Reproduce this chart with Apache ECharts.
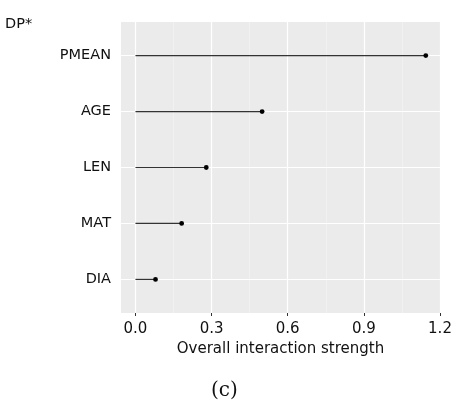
<!DOCTYPE html>
<html>
<head>
<meta charset="utf-8">
<script src="https://cdn.jsdelivr.net/npm/echarts@6/dist/echarts.min.js"></script>
<style>
  html, body { margin: 0; padding: 0; background: #fff; }
  #chart { width: 457px; height: 410px; }
</style>
</head>
<body>
<div id="chart"></div>
<script>
// Overall interaction strength per feature (lollipop chart)
const features = ['PMEAN', 'AGE', 'LEN', 'MAT', 'DIA'];
const strength = [1.144, 0.499, 0.279, 0.182, 0.079];
const xTicks = [0.0, 0.3, 0.6, 0.9, 1.2];
const xMinor = [0.15, 0.45, 0.75, 1.05];

const rowPos = features.map((_, i) => i + 1);
const FONT = 'DejaVu Sans';

const chart = echarts.init(document.getElementById('chart'), null, { renderer: 'canvas' });

const points = features.map((f, i) => [strength[i], rowPos[i]]);

chart.setOption({
  animation: false,
  backgroundColor: '#ffffff',
  grid: {
    left: 121, right: 17, top: 22, bottom: 97,
    show: true, backgroundColor: '#ebebeb', borderWidth: 0
  },
  xAxis: {
    type: 'value',
    min: -0.057, max: 1.2,
    name: 'Overall interaction strength',
    nameLocation: 'middle',
    nameGap: 28,
    nameTextStyle: { fontFamily: FONT, fontSize: 15, color: '#111' },
    axisLine: { show: false },
    splitLine: { show: false },
    axisTick: { show: true, customValues: xTicks, length: 3, lineStyle: { color: '#333', width: 1 } },
    axisLabel: {
      customValues: xTicks, margin: 9,
      fontFamily: FONT, fontSize: 15, color: '#111',
      formatter: v => v.toFixed(1)
    }
  },
  yAxis: {
    type: 'value',
    inverse: true,
    min: 0.4, max: 5.6,
    axisLine: { show: false },
    splitLine: { show: false },
    axisTick: { show: true, customValues: rowPos, length: 3, lineStyle: { color: '#333', width: 1 } },
    axisLabel: {
      customValues: rowPos, margin: 10,
      fontFamily: FONT, fontSize: 14.5, color: '#111',
      formatter: v => features[Math.round(v) - 1] || ''
    }
  },
  graphic: [
    { type: 'text', left: 5, top: 17, style: { text: 'DP*', font: '14.5px "DejaVu Sans"', fill: '#111' } },
    { type: 'text', left: 211, top: 381, style: { text: '(c)', font: '20px "DejaVu Serif"', fill: '#111' } }
  ],
  series: [
    {
      // panel gridlines
      type: 'line',
      data: [],
      silent: true,
      markLine: {
        silent: true,
        symbol: 'none',
        label: { show: false },
        animation: false,
        data: [
          ...xMinor.map(v => ({ xAxis: v, lineStyle: { color: '#f5f5f5', width: 0.6, type: 'solid' } })),
          ...xTicks.map(v => ({ xAxis: v, lineStyle: { color: '#ffffff', width: 1.2, type: 'solid' } })),
          ...rowPos.map(v => ({ yAxis: v, lineStyle: { color: '#ffffff', width: 1.2, type: 'solid' } }))
        ]
      }
    },
    {
      type: 'custom',
      data: points,
      z: 5,
      renderItem: function (params, api) {
        const v = api.value(0), y = api.value(1);
        const start = api.coord([0, y]);
        const end = api.coord([v, y]);
        return {
          type: 'group',
          children: [
            { type: 'line', shape: { x1: start[0], y1: start[1], x2: end[0], y2: end[1] },
              style: { stroke: '#333333', lineWidth: 1.2 } },
            { type: 'circle', shape: { cx: end[0], cy: end[1], r: 2.4 },
              style: { fill: '#000000' } }
          ]
        };
      }
    }
  ]
});
</script>
</body>
</html>
